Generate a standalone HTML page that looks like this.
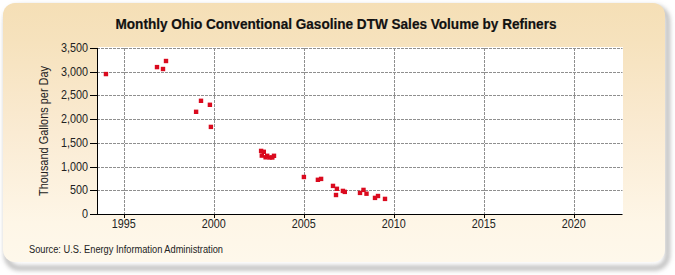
<!DOCTYPE html>
<html><head><meta charset="utf-8"><style>
html,body{margin:0;padding:0;background:#fff;width:675px;height:275px;overflow:hidden}
svg{display:block}
text{font-family:"Liberation Sans",sans-serif}
</style></head><body>
<svg width="675" height="275" viewBox="0 0 675 275">
<defs>
<linearGradient id="bg" x1="0" y1="0" x2="0" y2="1">
<stop offset="0" stop-color="#f5dfb6"/>
<stop offset="0.15" stop-color="#f6e2bd"/>
<stop offset="0.5" stop-color="#faebd3"/>
<stop offset="0.85" stop-color="#fef6e7"/>
<stop offset="1" stop-color="#fef8eb"/>
</linearGradient>
<filter id="sh" x="-5%" y="-10%" width="110%" height="120%">
<feGaussianBlur stdDeviation="2.4"/>
</filter>
</defs>
<rect x="6.5" y="7.5" width="661" height="260.5" rx="13" fill="none" stroke="#a0a0a0" stroke-width="3.5" filter="url(#sh)"/>
<rect x="3" y="3" width="662" height="259" rx="12" fill="url(#bg)"/>
<rect x="98" y="47" width="525" height="167.5" fill="#ffffff"/>
<g stroke="#8f8f8f" stroke-width="1" stroke-dasharray="3,1" fill="none">
<line x1="97" y1="190.5" x2="622.5" y2="190.5"/><line x1="97" y1="167.5" x2="622.5" y2="167.5"/><line x1="97" y1="143.5" x2="622.5" y2="143.5"/><line x1="97" y1="119.5" x2="622.5" y2="119.5"/><line x1="97" y1="95.5" x2="622.5" y2="95.5"/><line x1="97" y1="72.5" x2="622.5" y2="72.5"/><line x1="97" y1="48.5" x2="622.5" y2="48.5"/><line x1="124.5" y1="48.0" x2="124.5" y2="214.5"/><line x1="214.5" y1="48.0" x2="214.5" y2="214.5"/><line x1="304.5" y1="48.0" x2="304.5" y2="214.5"/><line x1="394.5" y1="48.0" x2="394.5" y2="214.5"/><line x1="484.5" y1="48.0" x2="484.5" y2="214.5"/><line x1="574.5" y1="48.0" x2="574.5" y2="214.5"/>
</g>
<g stroke="#000" stroke-width="1" fill="none">
<line x1="97.5" y1="48.0" x2="97.5" y2="215.0"/>
<line x1="97.5" y1="214.5" x2="622.5" y2="214.5"/>
<line x1="90" y1="214.5" x2="97.5" y2="214.5"/><line x1="90" y1="190.5" x2="97.5" y2="190.5"/><line x1="90" y1="167.5" x2="97.5" y2="167.5"/><line x1="90" y1="143.5" x2="97.5" y2="143.5"/><line x1="90" y1="119.5" x2="97.5" y2="119.5"/><line x1="90" y1="95.5" x2="97.5" y2="95.5"/><line x1="90" y1="72.5" x2="97.5" y2="72.5"/><line x1="90" y1="48.5" x2="97.5" y2="48.5"/><line x1="124.5" y1="214.5" x2="124.5" y2="218.0"/><line x1="214.5" y1="214.5" x2="214.5" y2="218.0"/><line x1="304.5" y1="214.5" x2="304.5" y2="218.0"/><line x1="394.5" y1="214.5" x2="394.5" y2="218.0"/><line x1="484.5" y1="214.5" x2="484.5" y2="218.0"/><line x1="574.5" y1="214.5" x2="574.5" y2="218.0"/>
</g>
<g fill="#da0a1e"><rect x="103.75" y="71.85" width="4.4" height="4.4"/><rect x="154.80" y="64.90" width="4.4" height="4.4"/><rect x="160.80" y="66.80" width="4.4" height="4.4"/><rect x="163.80" y="58.80" width="4.4" height="4.4"/><rect x="198.80" y="98.60" width="4.4" height="4.4"/><rect x="207.70" y="102.60" width="4.4" height="4.4"/><rect x="193.90" y="109.60" width="4.4" height="4.4"/><rect x="208.70" y="124.70" width="4.4" height="4.4"/><rect x="258.90" y="148.70" width="4.4" height="4.4"/><rect x="261.60" y="149.60" width="4.4" height="4.4"/><rect x="259.60" y="153.40" width="4.4" height="4.4"/><rect x="263.40" y="155.10" width="4.4" height="4.4"/><rect x="265.00" y="153.60" width="4.4" height="4.4"/><rect x="267.40" y="155.30" width="4.4" height="4.4"/><rect x="270.10" y="155.30" width="4.4" height="4.4"/><rect x="271.80" y="153.60" width="4.4" height="4.4"/><rect x="301.70" y="174.80" width="4.4" height="4.4"/><rect x="315.70" y="177.60" width="4.4" height="4.4"/><rect x="318.90" y="176.70" width="4.4" height="4.4"/><rect x="330.80" y="183.70" width="4.4" height="4.4"/><rect x="334.70" y="186.60" width="4.4" height="4.4"/><rect x="333.80" y="192.80" width="4.4" height="4.4"/><rect x="340.70" y="188.70" width="4.4" height="4.4"/><rect x="342.60" y="189.70" width="4.4" height="4.4"/><rect x="357.80" y="190.70" width="4.4" height="4.4"/><rect x="361.30" y="187.70" width="4.4" height="4.4"/><rect x="364.30" y="191.50" width="4.4" height="4.4"/><rect x="372.80" y="195.70" width="4.4" height="4.4"/><rect x="375.80" y="193.80" width="4.4" height="4.4"/><rect x="382.80" y="196.70" width="4.4" height="4.4"/></g>
<g font-size="12" fill="#222"><text transform="translate(88,218.2) scale(0.9,1)" text-anchor="end">0</text><text transform="translate(88,194.2) scale(0.9,1)" text-anchor="end">500</text><text transform="translate(88,171.2) scale(0.9,1)" text-anchor="end">1,000</text><text transform="translate(88,147.2) scale(0.9,1)" text-anchor="end">1,500</text><text transform="translate(88,123.2) scale(0.9,1)" text-anchor="end">2,000</text><text transform="translate(88,99.2) scale(0.9,1)" text-anchor="end">2,500</text><text transform="translate(88,76.2) scale(0.9,1)" text-anchor="end">3,000</text><text transform="translate(88,52.2) scale(0.9,1)" text-anchor="end">3,500</text><text transform="translate(123.7,228) scale(0.9,1)" text-anchor="middle">1995</text><text transform="translate(213.7,228) scale(0.9,1)" text-anchor="middle">2000</text><text transform="translate(303.7,228) scale(0.9,1)" text-anchor="middle">2005</text><text transform="translate(393.7,228) scale(0.9,1)" text-anchor="middle">2010</text><text transform="translate(483.7,228) scale(0.9,1)" text-anchor="middle">2015</text><text transform="translate(573.7,228) scale(0.9,1)" text-anchor="middle">2020</text></g>
<text x="115.5" y="28.5" font-size="13.8" font-weight="bold" fill="#111" stroke="#111" stroke-width="0.2" textLength="441" lengthAdjust="spacingAndGlyphs">Monthly Ohio Conventional Gasoline DTW Sales Volume by Refiners</text>
<text x="0" y="0" font-size="12" fill="#222" transform="translate(47.8,196) rotate(-90)" textLength="130" lengthAdjust="spacingAndGlyphs">Thousand Gallons per Day</text>
<text x="29" y="252.7" font-size="10" fill="#222" textLength="194" lengthAdjust="spacingAndGlyphs">Source: U.S. Energy Information Administration</text>
</svg>
</body></html>
